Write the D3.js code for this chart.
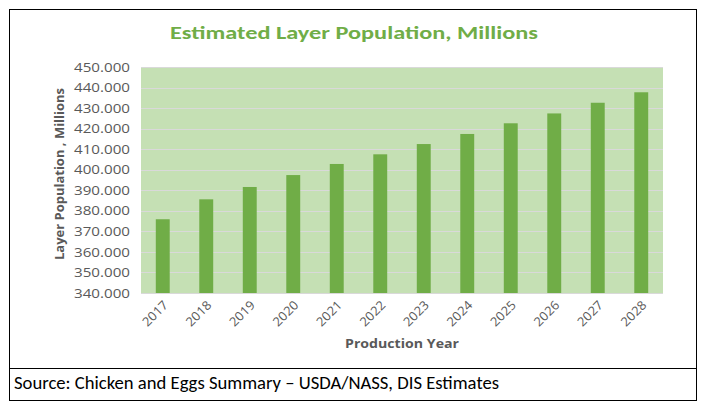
<!DOCTYPE html>
<html><head><meta charset="utf-8">
<script src="https://cdn.jsdelivr.net/npm/d3@7"></script>
<style>
html,body{margin:0;padding:0;background:#fff;}
text{font-family:"Open Sans","Liberation Sans",sans-serif;}
.cal{font-family:Calibri,Carlito,"Open Sans",sans-serif;}
</style></head>
<body><svg id="c" width="709" height="404"></svg>
<script>
const years = ["2017","2018","2019","2020","2021","2022","2023","2024","2025","2026","2027","2028"];
const layers = [375.9, 385.6, 391.6, 397.4, 402.8, 407.5, 412.5, 417.4, 422.6, 427.4, 432.6, 437.7];
const yTicks = [340,350,360,370,380,390,400,410,420,430,440,450];

const svg = d3.select("#c");
svg.append("rect").attr("x",9.5).attr("y",9.5).attr("width",687).attr("height",391)
  .attr("fill","none").attr("stroke","#000").attr("stroke-width",1);
svg.append("line").attr("x1",9.5).attr("x2",696.5).attr("y1",368.5).attr("y2",368.5)
  .attr("stroke","#000");

const m = {l:141, r:663, t:67, b:293};
const x = d3.scaleBand().domain(years).range([m.l,m.r]).paddingInner(0.68).paddingOuter(0.34);
const y = d3.scaleLinear().domain([340,450]).range([m.b,m.t]);

svg.append("rect").attr("x",m.l).attr("y",m.t).attr("width",m.r-m.l).attr("height",m.b-m.t)
  .attr("fill","#c5e0b4");

svg.append("g").selectAll("line").data(yTicks).join("line")
  .attr("x1",m.l).attr("x2",m.r)
  .attr("y1",d=>Math.round(y(d))+0.5).attr("y2",d=>Math.round(y(d))+0.5)
  .attr("stroke","#d9d9d9").attr("stroke-width",1);

svg.append("g").selectAll("rect").data(years).join("rect")
  .attr("x",(d)=>x(d)).attr("width",x.bandwidth())
  .attr("y",(d,i)=>y(layers[i])).attr("height",(d,i)=>y(340)-y(layers[i]))
  .attr("fill","#70ad47");

const ya = svg.append("g").attr("transform",`translate(${m.l},0)`)
  .call(d3.axisLeft(y).tickValues(yTicks).tickFormat(d3.format(".3f")).tickSize(0).tickPadding(11));
ya.select(".domain").remove();
ya.selectAll("text").attr("fill","#595959").style("font-size","13px")
  .style("font-family","'Open Sans',sans-serif")
  .attr("textLength",56).attr("lengthAdjust","spacingAndGlyphs");

const xa = svg.append("g").attr("transform",`translate(0,${m.b})`)
  .call(d3.axisBottom(x).tickSize(0).tickPadding(0));
xa.select(".domain").remove();
xa.selectAll("text").attr("fill","#595959").style("font-size","12.5px")
  .style("font-family","'Open Sans',sans-serif")
  .attr("text-anchor","end").attr("dy","0").attr("y",0)
  .attr("textLength",30).attr("lengthAdjust","spacingAndGlyphs")
  .attr("transform","translate(6,13) rotate(-45)");

svg.append("text").attr("class","cal").attr("x",354).attr("y",39).attr("text-anchor","middle")
  .attr("fill","#70ad47").style("font-size","19px").style("font-weight","bold")
  .attr("textLength",368).attr("lengthAdjust","spacingAndGlyphs")
  .text("Estimated Layer Population, Millions");

svg.append("text").attr("transform","translate(64,174) rotate(-90)").attr("text-anchor","middle")
  .attr("fill","#595959").style("font-size","12.5px").style("font-weight","bold")
  .attr("textLength",172).attr("lengthAdjust","spacingAndGlyphs")
  .text("Layer Population , Millions");
svg.append("text").attr("x",402).attr("y",348).attr("text-anchor","middle")
  .attr("fill","#595959").style("font-size","13px").style("font-weight","bold")
  .attr("textLength",114).attr("lengthAdjust","spacingAndGlyphs")
  .text("Production Year");

svg.append("text").attr("class","cal").attr("x",14).attr("y",389)
  .attr("fill","#000").style("font-size","17.5px")
  .attr("textLength",485).attr("lengthAdjust","spacingAndGlyphs")
  .text("Source: Chicken and Eggs Summary – USDA/NASS, DIS Estimates");
</script></body></html>
